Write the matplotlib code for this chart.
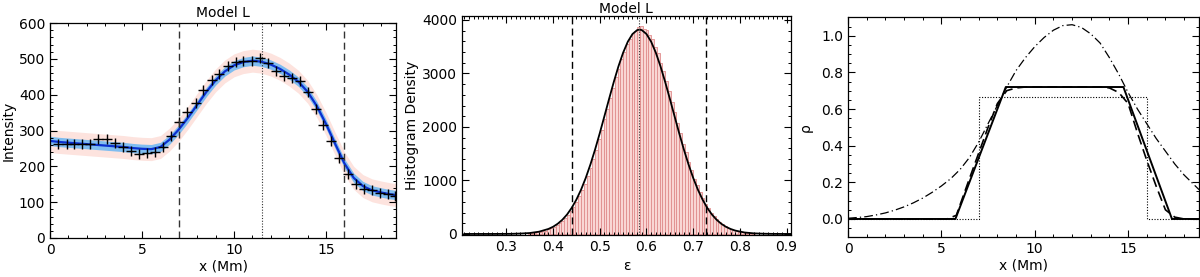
import numpy as np
import matplotlib
matplotlib.use("Agg")
import matplotlib.pyplot as plt
from matplotlib.ticker import MultipleLocator

# PANEL 1: observed intensity profile (+) and fitted model with uncertainty bands
x_obs = [0.45, 0.9, 1.3, 1.72, 2.17, 2.63, 3.08, 3.53, 3.99, 4.4, 4.84, 5.25, 5.7, 6.16,
         6.58, 7.03, 7.46, 7.92, 8.33, 8.79, 9.2, 9.66, 10.09, 10.5, 10.96, 11.41, 11.83,
         12.26, 12.72, 13.13, 13.59, 14.0, 14.46, 14.86, 15.27, 15.72, 16.18, 16.63, 17.07,
         17.48, 17.93, 18.35, 18.75]
y_obs = [261, 261, 263, 263, 263, 275, 277, 266, 255, 242, 235, 237, 240, 253,
         286, 323, 351, 377, 412, 440, 458, 479, 491, 493, 495, 503, 488,
         466, 453, 446, 438, 407, 359, 316, 272, 223, 179, 151, 137,
         133, 126, 123, 116]

x_fit = [0, 0.5, 1, 1.5, 2, 2.5, 3, 3.5, 4, 4.5, 5, 5.5, 6, 6.5, 7, 7.5, 8, 8.5, 9, 9.5,
         10, 10.5, 11, 11.5, 12, 12.5, 13, 13.5, 14, 14.5, 15, 15.5, 16, 16.5, 17, 17.5,
         18, 18.5, 18.8]
y_fit = [271, 268, 266, 264, 262, 260, 258, 256, 254, 251, 249, 248, 254, 275, 303, 336,
         372, 408, 440, 465, 482, 491, 495, 492, 484, 472, 456, 436, 408, 368, 318, 262,
         208, 168, 145, 133, 127, 122, 120]
err_inner = 13
err_outer = 32

# PANEL 2: posterior histogram of epsilon and Gaussian fit
hist_left = 0.346
hist_bin = 0.006
hist_heights = [13, 18, 22, 31, 38, 52, 63, 84, 102, 131,
                158, 201, 240, 298, 352, 430, 505, 604, 700, 822,
                941, 1092, 1235, 1410, 1570, 1766, 1940, 2150, 2330, 2548,
                2725, 2930, 3090, 3275, 3405, 3560, 3650, 3760, 3800, 3860,
                3880, 3835, 3810, 3715, 3640, 3500, 3385, 3200, 3055, 2850,
                2680, 2460, 2285, 2070, 1895, 1690, 1525, 1340, 1195, 1032,
                910, 775, 672, 562, 485, 398, 338, 272, 230, 182,
                152, 118, 98, 74, 61, 45, 37, 27, 22, 15, 12]
eps_curve = [0.21, 0.23, 0.25, 0.27, 0.29, 0.31, 0.33, 0.35, 0.37, 0.39, 0.40, 0.41, 0.42,
             0.43, 0.44, 0.45, 0.46, 0.47, 0.48, 0.49, 0.50, 0.51, 0.52, 0.53, 0.54, 0.55,
             0.56, 0.57, 0.58, 0.585, 0.59, 0.60, 0.61, 0.62, 0.63, 0.64, 0.65, 0.66, 0.67,
             0.68, 0.69, 0.70, 0.71, 0.72, 0.73, 0.74, 0.75, 0.76, 0.77, 0.78, 0.79, 0.81,
             0.83, 0.85, 0.87, 0.89, 0.91]
dens_curve = [0, 0, 0, 0, 1, 2, 7, 17, 42, 93, 134, 191, 266,
              364, 489, 643, 829, 1048, 1300, 1580, 1884, 2204, 2527, 2842, 3134, 3389,
              3594, 3737, 3811, 3820, 3811, 3737, 3594, 3389, 3134, 2842, 2527, 2204, 1884,
              1580, 1300, 1048, 829, 643, 489, 364, 266, 191, 134, 93, 63, 27,
              11, 4, 1, 0, 0]
eps_best = 0.585
eps_low = 0.441
eps_high = 0.728

# PANEL 3: density profiles
x_solid = [0, 5.75, 8.45, 14.75, 17.35, 18.8]
rho_solid = [0, 0, 0.72, 0.72, 0, 0]
x_dash = [0, 5.3, 5.8, 6.5, 7, 7.5, 8, 8.5, 9, 9.5, 13.5, 14, 14.5, 15, 15.5, 16, 16.5,
          17, 17.5, 18, 18.8]
rho_dash = [0, 0, 0.02, 0.22, 0.36, 0.5, 0.63, 0.70, 0.715, 0.72, 0.72, 0.715, 0.69,
            0.63, 0.47, 0.32, 0.18, 0.05, 0.01, 0, 0]
x_dot = [0, 7, 7, 16, 16, 18.8]
rho_dot = [0, 0, 0.667, 0.667, 0, 0]
x_dd = [0, 0.5, 1, 1.5, 2, 2.5, 3, 3.5, 4, 4.5, 5, 5.5, 6, 6.5, 7, 7.5, 8, 8.5, 9, 9.5,
        10, 10.5, 11, 11.5, 12, 12.5, 13, 13.5, 14, 14.5, 15, 15.5, 16, 16.5, 17, 17.5,
        18, 18.5, 18.8]
rho_dd = [0.004, 0.008, 0.013, 0.022, 0.033, 0.048, 0.066, 0.088, 0.114, 0.145, 0.18,
          0.22, 0.27, 0.335, 0.42, 0.52, 0.62, 0.72, 0.81, 0.88, 0.94, 0.99, 1.03, 1.055,
          1.06, 1.045, 1.01, 0.96, 0.88, 0.79, 0.69, 0.60, 0.52, 0.44, 0.37, 0.30, 0.24,
          0.19, 0.16]

plt.rcParams['font.family'] = ['DejaVu Sans']
plt.rcParams['font.size'] = 10

fig = plt.figure(figsize=(12, 2.77), dpi=100)
ax1 = fig.add_axes([0.0417, 0.1408, 0.2883, 0.776])
ax2 = fig.add_axes([0.385, 0.1516, 0.274, 0.7917])
ax3 = fig.add_axes([0.7067, 0.1433, 0.2925, 0.794])


def idl_style(ax, xmin, ymin):
    ax.tick_params(which='both', direction='in', top=True, right=True, labelsize=10)
    ax.tick_params(which='major', length=5, width=0.8)
    ax.tick_params(which='minor', length=2.5, width=0.7)
    ax.xaxis.set_minor_locator(MultipleLocator(xmin))
    ax.yaxis.set_minor_locator(MultipleLocator(ymin))
    for sp in ax.spines.values():
        sp.set_linewidth(0.9)


# panel 1
x_fit_a = np.array(x_fit)
y_fit_a = np.array(y_fit)
ax1.fill_between(x_fit_a, y_fit_a - err_outer, y_fit_a + err_outer, color='#fde3de', lw=0)
ax1.fill_between(x_fit_a, y_fit_a - err_inner, y_fit_a + err_inner, color='#80bdf0', lw=0)
ax1.plot(x_fit, y_fit, color='#0a2fd0', lw=1.6)
ax1.plot(x_obs, y_obs, '+', color='black', ms=6.5, mew=1.0)
ax1.axvline(7, color='#333333', ls=(0, (5, 3)), lw=1.0)
ax1.axvline(16, color='#333333', ls=(0, (5, 3)), lw=1.0)
ax1.axvline(11.5, color='#333333', ls=(0, (1, 1.5)), lw=0.8)
ax1.set_xlim(0, 18.8)
ax1.set_ylim(0, 600)
ax1.set_xticks([0, 5, 10, 15])
ax1.set_yticks([0, 100, 200, 300, 400, 500, 600])
idl_style(ax1, 1, 20)
ax1.set_xlabel('x (Mm)', labelpad=2)
ax1.set_ylabel('Intensity', labelpad=2)
ax1.set_title('Model L', fontsize=10, pad=4)

# panel 2
centers = hist_left + hist_bin * (np.arange(len(hist_heights)) + 0.5)
ax2.bar(centers, hist_heights, width=hist_bin, color='#f9d6d4', edgecolor='#e08c8c',
        linewidth=0.6)
ax2.plot(eps_curve, dens_curve, color='black', lw=1.3)
ax2.axvline(eps_low, color='black', ls=(0, (5, 3)), lw=1.0)
ax2.axvline(eps_high, color='black', ls=(0, (5, 3)), lw=1.0)
ax2.axvline(eps_best, color='#333333', ls=(0, (1, 1.5)), lw=0.8)
ax2.set_xlim(0.205, 0.909)
ax2.set_ylim(-20, 4080)
ax2.set_xticks([0.3, 0.4, 0.5, 0.6, 0.7, 0.8, 0.9])
ax2.set_yticks([0, 1000, 2000, 3000, 4000])
idl_style(ax2, 0.01, 200)
ax2.set_xlabel('\u03b5', labelpad=4)
ax2.set_ylabel('Histogram Density', labelpad=2)
ax2.set_title('Model L', fontsize=10, pad=2)

# panel 3
ax3.plot(x_dd, rho_dd, color='black', ls=(0, (7, 2.5, 1, 2.5)), lw=0.9)
ax3.plot(x_dot, rho_dot, color='black', ls=(0, (1, 1.5)), lw=0.8)
ax3.plot(x_dash, rho_dash, color='black', ls=(0, (6, 3)), lw=1.2)
ax3.plot(x_solid, rho_solid, color='black', lw=1.4)
ax3.set_xlim(0, 18.8)
ax3.set_ylim(-0.1, 1.1)
ax3.set_xticks([0, 5, 10, 15])
ax3.set_yticks([0.0, 0.2, 0.4, 0.6, 0.8, 1.0])
ax3.set_yticklabels(['0.0', '0.2', '0.4', '0.6', '0.8', '1.0'])
idl_style(ax3, 1, 0.05)
ax3.set_xlabel('x (Mm)', labelpad=2)
ax3.set_ylabel('\u03c1', labelpad=6)

fig.savefig('out.png', dpi=100)
